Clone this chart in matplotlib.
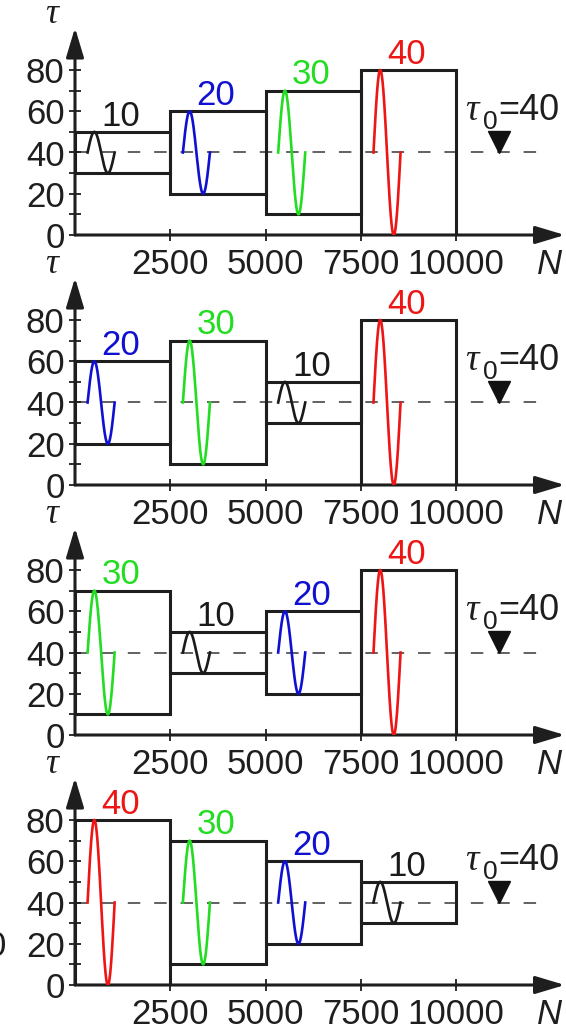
import numpy as np
import matplotlib.pyplot as plt

plt.rcParams['font.family'] = 'Liberation Sans'
plt.rcParams['lines.scale_dashes'] = False

# amplitude order of each panel (top to bottom)
panel_orders = [
    [10, 20, 30, 40],
    [20, 30, 10, 40],
    [30, 10, 20, 40],
    [40, 30, 20, 10],
]
segment_len = 2500
tau0 = 40
tau0_x = 11120
x_ticks = [2500, 5000, 7500, 10000]
y_ticks = [0, 20, 40, 60, 80]
y_minor = [10, 30, 50, 70]
colors = {10: '#1a1a1a', 20: '#1010d0', 30: '#22dd22', 40: '#ee1515'}

W, H = 566, 1028
fig = plt.figure(figsize=(W / 100, H / 100), dpi=100)

# pixel layout of one panel
x0_px, px_per_x = 75, 95.3 / 2500
px_per_y = 2.0625
xmax, ymax = 13000, 100
wave_offset, wave_period, label_offset = 330, 710, 1200
ink = '#1e1e1e'

for k, order in enumerate(panel_orders):
    origin = 235 + 250 * k
    ax = fig.add_axes([x0_px / W, (H - origin) / H,
                       xmax * px_per_x / W, ymax * px_per_y / H])
    ax.set_xlim(0, xmax)
    ax.set_ylim(0, ymax)
    for s in ax.spines.values():
        s.set_visible(False)
    ax.patch.set_visible(False)

    # dashed reference level
    ax.plot([0, 12120], [tau0, tau0], color='#555555', lw=1.3,
            ls=(0, (9, 10)), zorder=1)

    for i, amp in enumerate(order):
        start = i * segment_len
        c = colors[amp]
        ax.add_patch(plt.Rectangle((start, tau0 - amp), segment_len, 2 * amp,
                                   fill=False, ec=ink, lw=2.2, zorder=3))
        xs = np.linspace(0, wave_period, 200)
        ax.plot(start + wave_offset + xs,
                tau0 + amp * np.sin(2 * np.pi * xs / wave_period),
                color=c, lw=1.9, zorder=4)
        ax.text(start + label_offset, tau0 + amp + 3, str(amp), color=c,
                fontsize=25, ha='center', va='baseline', zorder=5)

    # axes with arrows
    head = dict(arrowstyle='-|>,head_length=1.0,head_width=0.3',
                mutation_scale=18, lw=2.2, color=ink,
                shrinkA=0, shrinkB=0)
    ax.annotate('', xy=(12850, 0), xytext=(0, 0), arrowprops=head,
                annotation_clip=False)
    ax.annotate('', xy=(0, 100.5), xytext=(0, 0), arrowprops=head,
                annotation_clip=False)

    ax.set_xticks(x_ticks)
    ax.set_xticklabels([str(v) for v in x_ticks])
    ax.set_yticks(y_ticks)
    ax.set_yticks(y_minor, minor=True)
    ax.tick_params(axis='both', which='both', direction='inout', length=8,
                   width=1.3, color=ink, labelsize=25, labelcolor=ink)
    ax.tick_params(axis='x', pad=5)
    ax.tick_params(axis='y', pad=3.5)

    # axis names
    ax.text(-603, 106.7, '\u03c4', family='Liberation Serif', style='italic',
            fontsize=26, ha='center', va='center', color=ink)
    ax.text(12460, -14.5, 'N', style='italic', fontsize=25, ha='center',
            va='center', color=ink, clip_on=False)

    # tau0 annotation
    ax.text(10230, 55.8, '\u03c4', family='Liberation Serif', style='italic',
            fontsize=27, ha='left', va='baseline', color=ink)
    ax.text(10700, 51.4, '0', fontsize=19, ha='left', va='baseline',
            color=ink)
    ax.text(11100, 55.8, '=40', fontsize=26, ha='left', va='baseline',
            color=ink)
    ax.plot([tau0_x], [tau0 + 5.1], marker='v', ms=15.5, color='#111111',
            ls='none', zorder=6, clip_on=False)

# stray clipped glyph at the left edge
fig.text(6.5 / W, (H - 946) / H, '0', fontsize=25, ha='right', va='center',
         color=ink)

fig.savefig('out.png', dpi=100)
